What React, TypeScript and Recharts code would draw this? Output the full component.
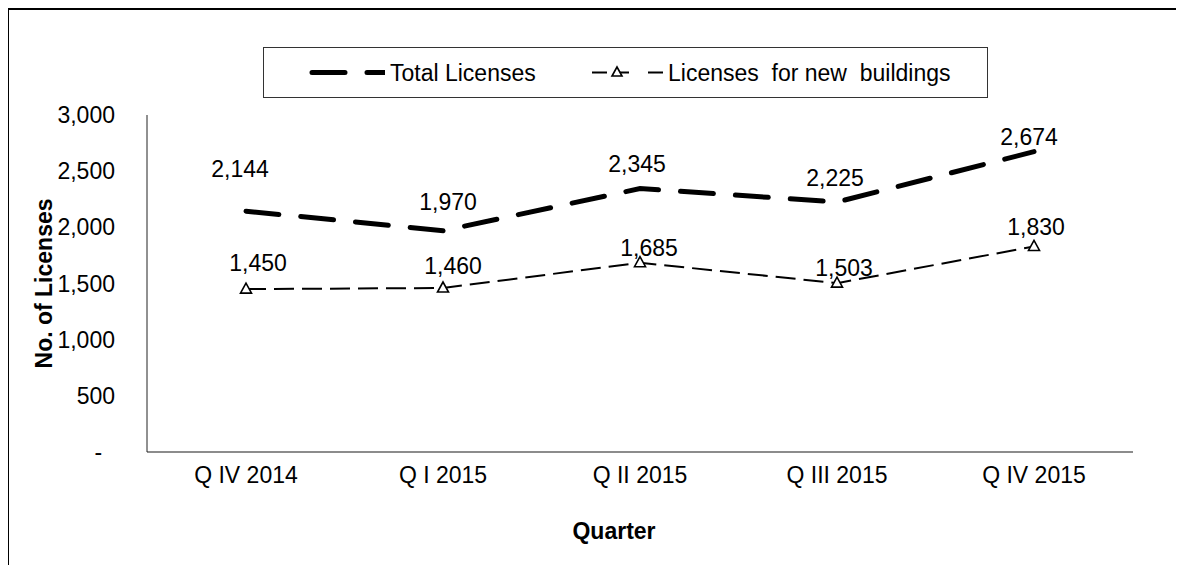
import React from 'react';
import { LineChart, Line, XAxis, YAxis, Legend, LabelList, Label } from 'recharts';

const categories = ['Q IV 2014', 'Q I 2015', 'Q II 2015', 'Q III 2015', 'Q IV 2015'];
const totalLicenses = [2144, 1970, 2345, 2225, 2674];
const newBuildingLicenses = [1450, 1460, 1685, 1503, 1830];
const yTicks = [0, 500, 1000, 1500, 2000, 2500, 3000];
const seriesNames = ['Total Licenses', 'Licenses  for new  buildings'];
const xAxisTitle = 'Quarter';
const yAxisTitle = 'No. of Licenses';

const data = categories.map((q, i) => ({
  quarter: q,
  total: totalLicenses[i],
  newb: newBuildingLicenses[i],
}));

const totalLabelOffsets = [[-6, -42], [5, -29], [-3, -25], [-2, -24], [-5, -15]];
const newLabelOffsets = [[12, -26], [10, -22], [9, -15], [7, -15], [2, -19]];

const FONT = '"Liberation Sans", Arial, sans-serif';
const FS = 23;

const fmt = (v: number) => (v === 0 ? '-\u00A0\u00A0' : v.toLocaleString('en-US'));

const makeLabel = (offsets: number[][]) => (props: any) => {
  const { x, y, value, index } = props;
  const o = offsets[index] || [0, -20];
  return (
    <text
      x={x + o[0]}
      y={y + o[1]}
      textAnchor="middle"
      dominantBaseline="central"
      fontFamily={FONT}
      fontSize={FS}
      fill="#000"
    >
      {fmt(value)}
    </text>
  );
};

const Triangle = (props: any) => {
  const { cx, cy, index } = props;
  if (cx == null || cy == null) return <g key={index} />;
  return (
    <polygon
      key={index}
      points={`${cx},${cy - 6} ${cx - 5.5},${cy + 4} ${cx + 5.5},${cy + 4}`}
      fill="#fff"
      stroke="#000"
      strokeWidth={1.6}
    />
  );
};

const LegendBox = () => (
  <svg width={725} height={51} style={{ display: 'block' }}>
    <rect x={0.5} y={0.5} width={724} height={50} fill="#fff" stroke="#333" strokeWidth={1} />
    <svg x={46} y={0} width={76} height={51}>
      <line x1={3} y1={25.5} x2={90} y2={25.5} stroke="#000" strokeWidth={5} strokeDasharray="33 22" strokeLinecap="round" />
    </svg>
    <text x={127} y={25.5} dominantBaseline="central" fontFamily={FONT} fontSize={FS} fill="#000" style={{ whiteSpace: 'pre' }}>
      {seriesNames[0]}
    </text>
    <line x1={329} y1={25.5} x2={344} y2={25.5} stroke="#000" strokeWidth={2} />
    <line x1={356} y1={25.5} x2={366} y2={25.5} stroke="#000" strokeWidth={2} />
    <line x1={385} y1={25.5} x2={400} y2={25.5} stroke="#000" strokeWidth={2} />
    <polygon points={`354,20 349,29 359,29`} fill="#fff" stroke="#000" strokeWidth={1.6} />
    <text x={405} y={25.5} dominantBaseline="central" fontFamily={FONT} fontSize={FS} fill="#000" style={{ whiteSpace: 'pre' }}>
      {seriesNames[1]}
    </text>
  </svg>
);

export default function App() {
  return (
    <div
      style={{
        position: 'relative',
        width: 1167,
        height: 555,
        marginLeft: -1,
        borderTop: '2px solid #000',
        borderLeft: '2px solid #000',
        background: '#fff',
      }}
    >
      <style>{'html,body{overflow:hidden;background:#fff}'}</style>
      <LineChart
        width={1167}
        height={555}
        data={data}
        margin={{ top: 105, right: 43, bottom: 53, left: 20 }}
      >
        <XAxis
          dataKey="quarter"
          type="category"
          padding={{ left: 99, right: 99 }}
          axisLine={{ stroke: '#8c8c8c', strokeWidth: 2 }}
          tickLine={false}
          tickSize={0}
          tickMargin={15}
          height={60}
          interval={0}
          tick={{ fontFamily: FONT, fontSize: FS, fill: '#000' }}
        >
          <Label
            content={(p: any) => {
              const vb = p.viewBox || {};
              return (
                <text
                  x={vb.x + vb.width / 2 - 26}
                  y={vb.y + 79}
                  textAnchor="middle"
                  dominantBaseline="central"
                  fontFamily={FONT}
                  fontSize={FS}
                  fontWeight="bold"
                  fill="#000"
                >
                  {xAxisTitle}
                </text>
              );
            }}
          />
        </XAxis>
        <YAxis
          domain={[0, 3000]}
          ticks={yTicks}
          width={118}
          axisLine={{ stroke: '#222', strokeWidth: 1 }}
          tickLine={false}
          tickSize={0}
          tickMargin={32}
          tickFormatter={fmt}
          interval={0}
          tick={{ fontFamily: FONT, fontSize: FS, fill: '#000' }}
        >
          <Label
            content={(p: any) => {
              const vb = p.viewBox || {};
              const cx = vb.x + 15;
              const cy = vb.y + vb.height / 2;
              return (
                <text
                  x={cx}
                  y={cy}
                  transform={`rotate(-90 ${cx} ${cy})`}
                  textAnchor="middle"
                  dominantBaseline="central"
                  fontFamily={FONT}
                  fontSize={FS}
                  fontWeight="bold"
                  fill="#000"
                >
                  {yAxisTitle}
                </text>
              );
            }}
          />
        </YAxis>
        <Legend
          layout="horizontal"
          verticalAlign="middle"
          align="center"
          wrapperStyle={{ top: 37, left: 254, width: 725, height: 51 }}
          content={() => <LegendBox />}
        />
        <Line
          dataKey="total"
          name={seriesNames[0]}
          stroke="#000"
          strokeWidth={5}
          strokeDasharray="33 22"
          strokeLinecap="round"
          dot={false}
          activeDot={false}
          isAnimationActive={false}
        >
          <LabelList dataKey="total" content={makeLabel(totalLabelOffsets)} />
        </Line>
        <Line
          dataKey="newb"
          name={seriesNames[1]}
          stroke="#000"
          strokeWidth={2}
          strokeDasharray="20 8"
          dot={Triangle}
          activeDot={false}
          isAnimationActive={false}
        >
          <LabelList dataKey="newb" content={makeLabel(newLabelOffsets)} />
        </Line>
      </LineChart>
    </div>
  );
}
